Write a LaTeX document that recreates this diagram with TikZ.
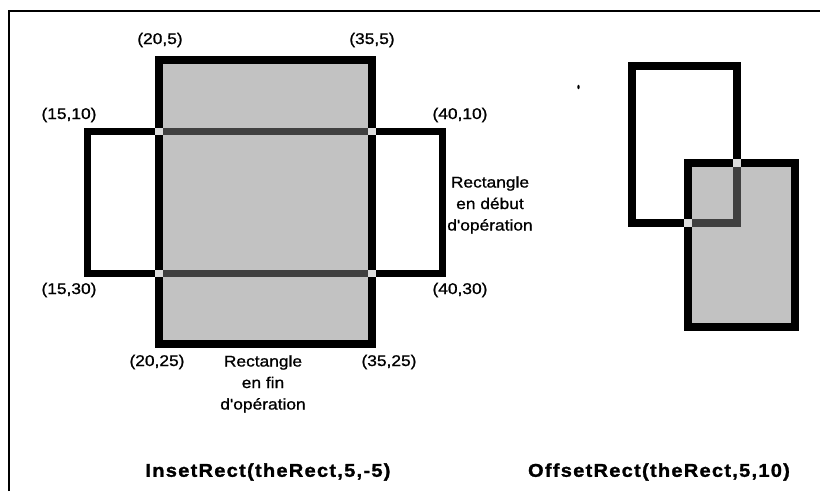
\documentclass[tikz,border=0pt]{standalone}
\usepackage{fontspec}
\newfontfamily\lblfont[FakeStretch=1.12,FakeBold=1]{Liberation Sans}
\newfontfamily\ttlfont[FakeStretch=1.08,LetterSpace=7,FakeBold=1.5]{Liberation Sans}
\begin{document}
\begin{tikzpicture}[x=1pt,y=-1pt,
  framestyle/.style={line width=2pt,black},
  tallbox/.style={line width=8pt,line join=miter,draw=black,fill=black!24},
  widebox/.style={line width=7pt,line join=miter,draw=black},
  darkpart/.style={fill=black!75},
  lightpart/.style={fill=black!14},
  lbl/.style={font=\lblfont\fontsize{15.5}{21.5}\selectfont,inner sep=0pt},
  multilbl/.style={lbl,align=center},
  ttl/.style={font=\ttlfont\bfseries\fontsize{18.5}{22}\selectfont,inner sep=0pt}]
\useasboundingbox (0,0) rectangle (820,491);
\fill[white] (0,0) rectangle (820,491);
% frame (top and left edges)
\draw[framestyle] (9,491) -- (9,11) -- (820,11);
% ---- InsetRect figure ----
\draw[tallbox] (159,60) rectangle (372,344);
\draw[widebox] (87.5,131.5) rectangle (442.5,273.5);
% parts of wide rect bars inside the tall rect
\fill[darkpart] (163,128) rectangle (368,135);
\fill[darkpart] (163,270) rectangle (368,277);
% crossings
\fill[lightpart] (155,128) rectangle (163,135);
\fill[lightpart] (368,128) rectangle (376,135);
\fill[lightpart] (155,270) rectangle (163,277);
\fill[lightpart] (368,270) rectangle (376,277);
% labels
\node[lbl] (l205)  at (160,40)  {(20,5)};
\node[lbl] (l355)  at (372,40)  {(35,5)};
\node[lbl] (l1510) at (69,115)  {(15,10)};
\node[lbl] (l4010) at (460,115) {(40,10)};
\node[lbl] (l1530) at (69,290)  {(15,30)};
\node[lbl] (l4030) at (460,290) {(40,30)};
\node[lbl] (l2025) at (157,362) {(20,25)};
\node[lbl] (l3525) at (389,362) {(35,25)};
\node[multilbl] (debut) at (490,205) {Rectangle\\en début\\d'opération};
\node[multilbl] (fin) at (263,384) {Rectangle\\en fin\\d'opération};
\node[ttl] (inset) at (268,472) {InsetRect(theRect,5,-5)};
% ---- OffsetRect figure ----
\draw[tallbox] (687.5,163) rectangle (794.5,327);
\draw[widebox,line width=8pt] (632,66) rectangle (737,223);
\fill[darkpart] (733,167) rectangle (741,227);
\fill[darkpart] (691.5,219) rectangle (741,227);
\fill[lightpart] (733,159) rectangle (741,167);
\fill[lightpart] (683.5,219) rectangle (691.5,227);
\node[ttl] (offset) at (659,472) {OffsetRect(theRect,5,10)};
% speck
\fill[black] (578.5,87) ellipse (1.2pt and 2.2pt);
\end{tikzpicture}
\end{document}
